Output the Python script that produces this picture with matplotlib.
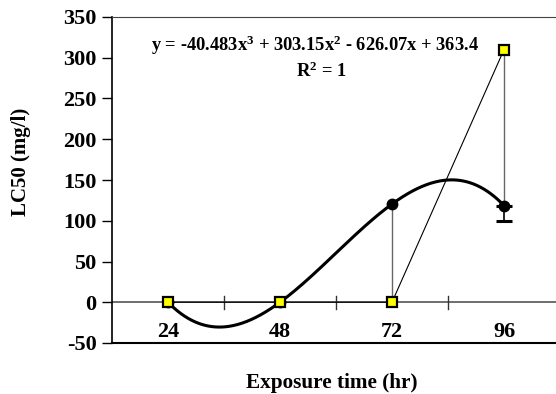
import numpy as np
import matplotlib

matplotlib.use("Agg")
import matplotlib.pyplot as plt

categories = ["24", "48", "72", "96"]
observed_lc50 = [0, 0, 0, 310]
fitted_lc50 = [0, 0, 120.5, 118.6]
lower_error = [0, 0, 0, 18.6]
equation_text = "y = -40.483x$^3$ + 303.15x$^2$ - 626.07x + 363.4"
r2_text = "R$^2$ = 1"
y_ticks = [-50, 0, 50, 100, 150, 200, 250, 300, 350]

plt.rcParams["font.family"] = ["Liberation Serif", "DejaVu Serif"]
plt.rcParams["font.weight"] = "bold"
plt.rcParams["mathtext.fontset"] = "custom"
plt.rcParams["mathtext.rm"] = "Liberation Serif:bold"
plt.rcParams["mathtext.it"] = "Liberation Serif:bold"
plt.rcParams["mathtext.bf"] = "Liberation Serif:bold"

fig = plt.figure(figsize=(5.56, 3.94), dpi=100)
ax = fig.add_axes([112 / 556, 51 / 394, 448 / 556, 326 / 394])

x = np.arange(1, len(categories) + 1)

# trendline: cubic through the fitted points
coeffs = np.polyfit(x, fitted_lc50, 3)
xs = np.linspace(1, 4, 300)
ax.plot(xs, np.polyval(coeffs, xs), color="black", lw=2.2, zorder=3)

# zero line with category tick marks
ax.axhline(0, color="#555555", lw=1.2, zorder=1)
for b in [1.5, 2.5, 3.5]:
    ax.plot([b, b], [-8, 8], color="#333333", lw=1, zorder=1)

# high-low lines between series
lo = np.minimum(observed_lc50, fitted_lc50)
hi = np.maximum(observed_lc50, fitted_lc50)
ax.vlines(x, lo, hi, color="#666666", lw=1, zorder=2)

ax.plot(x, observed_lc50, color="black", lw=0.8, zorder=4)
ax.plot(x, fitted_lc50, "o", color="black", ms=7.5, zorder=5)
has_err = [i for i, e in enumerate(lower_error) if e > 0]
ax.errorbar([x[i] for i in has_err], [fitted_lc50[i] for i in has_err],
            yerr=[[lower_error[i] for i in has_err], [0] * len(has_err)],
            fmt="none", ecolor="black", capsize=6, elinewidth=1.2, capthick=2.2, zorder=5)
ax.plot(x, observed_lc50, "s", ms=7, mfc="#ffff00", mec="black", mew=1.6, zorder=6)

ax.set_xlim(0.5, 4.5)
ax.set_ylim(-50, 350)
ax.set_yticks(y_ticks)
ax.set_yticklabels([str(t) for t in y_ticks], fontsize=16, fontweight="bold")
ax.tick_params(axis="y", direction="out", length=7, width=1, pad=4)
ax.set_xticks([])
for xi, lab in zip(x, categories):
    ax.text(xi, -37, lab, ha="center", va="center", fontsize=16, fontweight="bold")

ax.spines["right"].set_visible(False)
ax.spines["top"].set_color("#444444")
ax.spines["left"].set_linewidth(1.2)
ax.spines["bottom"].set_linewidth(1.5)

ax.text(2.31, 315, equation_text, ha="center", va="center", fontsize=13.3, fontweight="bold")
ax.text(2.37, 283, r2_text, ha="center", va="center", fontsize=13.3, fontweight="bold")

fig.text(21 / 556, 1 - 162 / 394, "LC50 (mg/l)", rotation=90, ha="center", va="center",
         fontsize=15, fontweight="bold")
fig.text(332 / 556, 1 - 383 / 394, "Exposure time (hr)", ha="center", va="center",
         fontsize=15.3, fontweight="bold")

fig.savefig("out.png", dpi=100)
